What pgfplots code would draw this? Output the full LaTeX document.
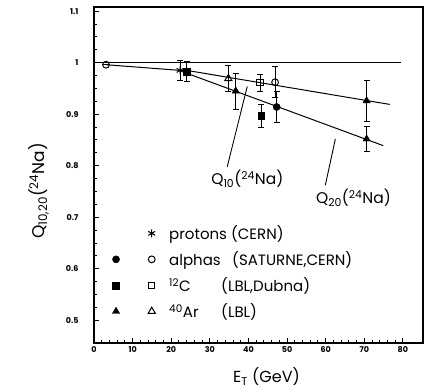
\documentclass[border=0pt]{standalone}
\usepackage{pgfplots}
\pgfplotsset{compat=1.18}
\usepackage{fontspec}
\setmainfont{Poppins}
\begin{document}
\begin{tikzpicture}
\useasboundingbox (0,0) rectangle (431pt,391pt);
\begin{axis}[
  at={(94pt,48pt)}, anchor=south west,
  scale only axis, width=329pt, height=336pt,
  xmin=0, xmax=85.2, ymin=0.456, ymax=1.108,
  clip=false,
  xtick={0,10,...,80}, ytick={0.5,0.6,0.7,0.8,0.9,1,1.1},
  yticklabels={0.5,0.6,0.7,0.8,0.9,1,1.1},
  minor x tick num=4, minor y tick num=3,
  xtick pos=bottom, ytick pos=left, tick align=inside,
  major tick length=5pt, minor tick length=3pt,
  axis line style={line width=1.3pt, black},
  every tick/.style={black, line width=1pt},
  /pgf/number format/assume math mode=true,
  ticklabel style={font=\fontsize{8}{9}\selectfont\bfseries},
  yticklabel style={xshift=-12pt},
  xlabel={E\textsubscript{T} (GeV)},
  xlabel style={font=\fontsize{16}{18}\selectfont, yshift=-8pt, xshift=8pt},
  ylabel={Q\textsubscript{10,20}(\textsuperscript{24}Na)},
  ylabel style={font=\fontsize{17}{19}\selectfont, yshift=10pt, xshift=-16pt},
  legend columns=2,
  legend cell align=left,
  legend image code/.code={\path (0pt,0pt) (34pt,0pt); \draw[#1] plot coordinates {(17pt,0pt)};},
  legend style={draw=none, fill=none, at={(rel axis cs:0.005,0.356)}, anchor=north west,
    font=\fontsize{15}{18}\selectfont, nodes={inner sep=0pt}, column sep=0pt, row sep=10.5pt},
  error bars/error bar style={line width=0.8pt},
  error bars/error mark options={rotate=90, mark size=3pt, line width=0.8pt},
]
% reference lines
\addplot[black, line width=1pt, forget plot] coordinates {(0,1.0) (79.5,1.0)};
\addplot[black, line width=1pt, forget plot] coordinates {(3.1,0.996) (22.3,0.985) (24,0.985)};
\addplot[black, line width=1pt, forget plot] coordinates {(24,0.985) (76.6,0.919)};
\addplot[black, line width=1pt, forget plot] coordinates {(24.9,0.977) (74.9,0.839)};
% pointer lines
\addplot[black, line width=0.9pt, forget plot] coordinates {(34.5,0.798) (39.7,0.954)};
\addplot[black, line width=0.9pt, forget plot] coordinates {(59.9,0.762) (62.5,0.852)};
% data
\addplot[black, only marks, mark=asterisk, mark size=4pt, line width=1pt, forget plot,
  error bars/.cd, y dir=both, y explicit] coordinates {(22.3,0.985) +- (0,0.02)};
\addplot[black, only marks, mark=*, mark size=3.6pt, forget plot,
  error bars/.cd, y dir=both, y explicit] coordinates {(47.3,0.914) +- (0,0.03)};
\addplot[black, only marks, mark=o, mark size=3.4pt, line width=1pt, mark options={fill=white}, forget plot,
  error bars/.cd, y dir=both, y explicit] coordinates {(3.1,0.996) +- (0,0) (46.9,0.962) +- (0,0.03)};
\addplot[black, only marks, mark=square*, mark size=3.4pt, forget plot,
  error bars/.cd, y dir=both, y explicit] coordinates {(24,0.983) +- (0,0.02) (43.3,0.897) +- (0,0.022)};
\addplot[black, only marks, mark=square, mark size=3.2pt, line width=1pt, mark options={fill=white}, forget plot,
  error bars/.cd, y dir=both, y explicit] coordinates {(43,0.961) +- (0,0.017)};
\addplot[black, only marks, mark=triangle*, mark size=4.2pt, forget plot,
  error bars/.cd, y dir=both, y explicit] coordinates {(36.7,0.945) +- (0,0.035) (70.6,0.926) +- (0,0.04) (70.6,0.852) +- (0,0.024)};
\addplot[black, only marks, mark=triangle, mark size=4.2pt, line width=1pt, mark options={fill=white}, forget plot,
  error bars/.cd, y dir=both, y explicit] coordinates {(34.8,0.969) +- (0,0.025)};
% annotations
\node[font=\fontsize{15.5}{17}\selectfont] at (axis cs:39.7,0.775) {Q\textsubscript{10}(\textsuperscript{24}Na)};
\node[font=\fontsize{15.5}{17}\selectfont] at (axis cs:67.2,0.738) {Q\textsubscript{20}(\textsuperscript{24}Na)};
% legend
\addlegendimage{empty legend}
\addlegendentry{}
\addlegendimage{black, only marks, mark=asterisk, mark size=4pt, line width=1pt}
\addlegendentry{protons (CERN)}
\addlegendimage{black, only marks, mark=*, mark size=3.6pt}
\addlegendentry{}
\addlegendimage{black, only marks, mark=o, mark size=3.4pt, line width=1pt}
\addlegendentry{\makebox[63pt][l]{alphas}(SATURNE,CERN)}
\addlegendimage{black, only marks, mark=square*, mark size=3.4pt}
\addlegendentry{}
\addlegendimage{black, only marks, mark=square, mark size=3.2pt, line width=1pt}
\addlegendentry{\makebox[52pt][l]{\textsuperscript{12}C}(LBL,Dubna)}
\addlegendimage{black, only marks, mark=triangle*, mark size=4.2pt}
\addlegendentry{}
\addlegendimage{black, only marks, mark=triangle, mark size=4.2pt, line width=1pt}
\addlegendentry{\makebox[52pt][l]{\textsuperscript{40}Ar}(LBL)}
\end{axis}
\draw[black, line width=1.3pt] (94pt,48pt) rectangle (423pt,384pt);
\end{tikzpicture}
\end{document}
